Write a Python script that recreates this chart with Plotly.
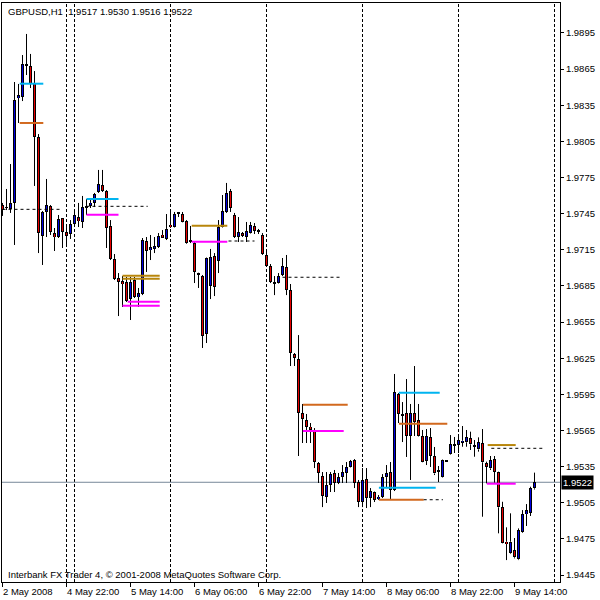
import plotly.graph_objects as go

# ---------------- data ----------------
opens = [1.97522,1.97505,1.97489,1.97539,1.98410,1.98419,1.98684,1.98676,1.98535,1.98086,
         1.97265,1.97464,1.97514,1.97289,1.97256,1.97414,1.97298,1.97281,1.97364,1.97422,
         1.97381,1.97505,1.97514,1.97539,1.97630,1.97688,1.97638,1.97348,1.97074,1.96916,
         1.96891,1.96883,1.96741,1.96899,1.96758,1.96783,1.97223,1.97148,1.97157,1.97173,
         1.97273,1.97240,1.97356,1.97339,1.97456,1.97447,1.97389,1.97223,1.97206,1.96949,
         1.96932,1.96451,1.96849,1.97098,1.97057,1.97339,1.97464,1.97638,1.97439,1.97256,
         1.97289,1.97256,1.97289,1.97348,1.97302,1.97273,1.97107,1.97015,1.96874,1.96874,
         1.96941,1.97007,1.96816,1.96285,1.96243,1.95795,1.95737,1.95679,1.95654,1.95380,
         1.95272,1.95098,1.95197,1.95297,1.95214,1.95263,1.95297,1.95347,1.95405,1.95222,
         1.95056,1.95247,1.95089,1.95139,1.95081,1.95098,1.95263,1.95305,1.95156,1.95953,
         1.95778,1.95795,1.95604,1.95795,1.95737,1.95604,1.95396,1.95596,1.95438,1.95313,
         1.95263,1.95398,1.95455,1.95529,1.95529,1.95548,1.95552,1.95585,1.95523,1.95493,
         1.95543,1.95377,1.95336,1.95411,1.95302,1.95012,1.94726,1.94630,1.94657,1.94580,
         1.94809,1.94956,1.94967,1.95170]
highs = [1.97539,1.97655,1.97862,1.98543,1.98527,1.98767,1.98942,1.98776,1.98634,1.98111,
         1.97472,1.97738,1.97522,1.97331,1.97439,1.97414,1.97339,1.97397,1.97472,1.97539,
         1.97597,1.97572,1.97580,1.97622,1.97813,1.97813,1.97646,1.97397,1.97115,1.96957,
         1.96932,1.96924,1.96924,1.96924,1.96833,1.97248,1.97256,1.97273,1.97256,1.97289,
         1.97314,1.97447,1.97464,1.97464,1.97464,1.97464,1.97397,1.97348,1.97215,1.96960,
         1.96941,1.97086,1.97157,1.97123,1.97397,1.97605,1.97705,1.97655,1.97456,1.97422,
         1.97298,1.97381,1.97381,1.97372,1.97323,1.97289,1.97132,1.97032,1.96932,1.96957,
         1.97082,1.97107,1.96866,1.96293,1.96442,1.95870,1.95787,1.95712,1.95670,1.95388,
         1.95305,1.95305,1.95305,1.95322,1.95297,1.95363,1.95388,1.95405,1.95413,1.95239,
         1.95338,1.95338,1.95172,1.95143,1.95114,1.95288,1.95363,1.95388,1.96119,1.95961,
         1.95886,1.96077,1.95870,1.96185,1.95870,1.95654,1.95662,1.95670,1.95513,1.95355,
         1.95413,1.95400,1.95612,1.95596,1.95612,1.95687,1.95654,1.95640,1.95571,1.95593,
         1.95662,1.95391,1.95438,1.95438,1.95308,1.95058,1.94846,1.94962,1.94757,1.94837,
         1.94989,1.95039,1.95183,1.95300]
lows = [1.97431,1.97480,1.97456,1.97190,1.98203,1.98385,1.98601,1.98493,1.97680,1.97123,
        1.97024,1.97256,1.97273,1.97140,1.97248,1.97165,1.97190,1.97240,1.97339,1.97339,
        1.97331,1.97439,1.97497,1.97505,1.97622,1.97630,1.97165,1.97065,1.96899,1.96600,
        1.96675,1.96717,1.96567,1.96750,1.96675,1.96774,1.96966,1.97065,1.97123,1.97165,
        1.97248,1.97231,1.97331,1.97335,1.97422,1.97378,1.97200,1.97206,1.96874,1.96833,
        1.96335,1.96376,1.96741,1.96766,1.96957,1.97335,1.97456,1.97464,1.97248,1.97215,
        1.97256,1.97215,1.97285,1.97281,1.97281,1.97107,1.97007,1.96874,1.96774,1.96870,
        1.96932,1.96774,1.96185,1.96185,1.95438,1.95546,1.95546,1.95546,1.95338,1.95214,
        1.95014,1.95048,1.95139,1.95139,1.95205,1.95214,1.95214,1.95343,1.95172,1.95014,
        1.95014,1.95006,1.95014,1.95056,1.95073,1.95089,1.95180,1.95081,1.95147,1.95712,
        1.95554,1.95430,1.95239,1.95604,1.95600,1.95386,1.95363,1.95347,1.95280,1.95222,
        1.95259,1.95394,1.95450,1.95463,1.95463,1.95515,1.95515,1.95488,1.95432,1.95474,
        1.94934,1.95211,1.95322,1.95216,1.94796,1.94713,1.94574,1.94624,1.94588,1.94574,
        1.94801,1.94857,1.94940,1.95160]
closes = [1.97480,1.97497,1.97539,1.98394,1.98435,1.98693,1.98680,1.98527,1.98086,1.97289,
          1.97464,1.97522,1.97298,1.97256,1.97406,1.97298,1.97265,1.97364,1.97439,1.97389,
          1.97505,1.97509,1.97539,1.97613,1.97696,1.97638,1.97331,1.97074,1.96908,1.96883,
          1.96866,1.96725,1.96883,1.96758,1.96791,1.97231,1.97140,1.97173,1.97181,1.97265,
          1.97248,1.97323,1.97339,1.97447,1.97453,1.97381,1.97206,1.97219,1.96966,1.96946,
          1.96434,1.97082,1.97090,1.96841,1.97339,1.97472,1.97622,1.97497,1.97256,1.97298,
          1.97265,1.97306,1.97356,1.97306,1.97298,1.97115,1.97015,1.96883,1.96872,1.96932,
          1.97015,1.96816,1.96293,1.96252,1.95795,1.95745,1.95679,1.95654,1.95388,1.95297,
          1.95106,1.95197,1.95288,1.95214,1.95263,1.95305,1.95347,1.95396,1.95214,1.95056,
          1.95239,1.95089,1.95147,1.95073,1.95098,1.95263,1.95297,1.95156,1.95966,1.95787,
          1.95776,1.95604,1.95795,1.95720,1.95604,1.95388,1.95604,1.95438,1.95293,1.95311,
          1.95409,1.95396,1.95537,1.95527,1.95567,1.95565,1.95593,1.95535,1.95521,1.95552,
          1.95386,1.95349,1.95405,1.95308,1.95012,1.94718,1.94707,1.94726,1.94597,1.94823,
          1.94954,1.94989,1.95170,1.95220]

x_tick_bars = [0, 16, 32, 48, 64, 80, 96, 112, 128]
x_tick_labels = ["2 May 2008", "4 May 22:00", "5 May 14:00", "6 May 06:00", "6 May 22:00",
                 "7 May 14:00", "8 May 06:00", "8 May 22:00", "9 May 14:00"]
y_tick_values = [1.9445, 1.9475, 1.9505, 1.9535, 1.9565, 1.9595, 1.9625, 1.9655,
                 1.9685, 1.9715, 1.9745, 1.9775, 1.9805, 1.9835, 1.9865, 1.9895]
separator_bars = [16, 18, 42, 66, 90, 114, 138]

# level segments: price, start bar, end bar, kind
seg_price = [1.98529, 1.98203, 1.97486, 1.97572, 1.97441, 1.97511, 1.96935, 1.96910,
             1.96719, 1.96686, 1.97350, 1.97217, 1.97223, 1.96922, 1.95864, 1.95646,
             1.95963, 1.95706, 1.95175, 1.95075, 1.95075, 1.95529, 1.95502, 1.95208]
seg_start = [4.3, 4.3, 0.0, 21.0, 21.0, 21.0, 30.0, 30.0, 31.3, 30.0, 47.3, 47.3, 56.5, 70.0,
             75.1, 75.1, 99.1, 99.1, 94.1, 94.1, 105.3, 121.3, 122.2, 121.1]
seg_end = [10.2, 10.2, 14.3, 29.0, 29.0, 36.3, 39.3, 39.3, 39.3, 39.3, 56.2, 56.2, 63.0, 84.3,
           86.3, 85.3, 109.3, 111.2, 108.3, 105.3, 110.1, 128.3, 135.3, 128.3]
seg_kind = ["cyan", "orange", "dash", "cyan", "magenta", "dash", "gold", "gold",
            "magenta", "magenta", "gold", "magenta", "dash", "dash", "orange", "magenta",
            "cyan", "orange", "cyan", "orange", "dash", "gold", "dash", "magenta"]

symbol = "GBPUSD,H1"
last_price = 1.9522
footer = "Interbank FX Trader 4, © 2001-2008 MetaQuotes Software Corp."

# ---------------- styles ----------------
FONT = "Liberation Sans"
FS = 9.5
BULL = "#0000E0"
BEAR = "#E80000"
kind_style = {
    "cyan": dict(color="#00B4F0", width=2, dash="solid"),
    "orange": dict(color="#D2691E", width=2, dash="solid"),
    "magenta": dict(color="#FF00FF", width=2, dash="solid"),
    "gold": dict(color="#B8860B", width=2, dash="solid"),
    "dash": dict(color="#000000", width=1, dash="3px,3px"),
}
Y_RANGE = [1.94392, 1.99199]
PLOT_H_PX = 579
px_price = (Y_RANGE[1] - Y_RANGE[0]) / PLOT_H_PX  # price per screen pixel

n = len(opens)
idx = list(range(n))

fig = go.Figure()

# body outlines (black) then coloured interior (bars sit below scatter lines)
base = [min(o, c) for o, c in zip(opens, closes)]
top = [max(o, c) for o, c in zip(opens, closes)]
height = [max(t - b, px_price) for t, b in zip(top, base)]
fig.add_trace(go.Bar(x=idx, y=height, base=base, width=0.75,
                     marker=dict(color="black", line=dict(width=0)), showlegend=False))
ix, ib, ih, ic = [], [], [], []
for i in idx:
    h_in = top[i] - base[i] - 2 * px_price
    if h_in > 0:
        ix.append(i)
        ib.append(base[i] + px_price)
        ih.append(h_in)
        ic.append(BULL if closes[i] >= opens[i] else BEAR)
fig.add_trace(go.Bar(x=ix, y=ih, base=ib, width=0.25,
                     marker=dict(color=ic, line=dict(width=0)), showlegend=False))

# wicks: above and below the body only
wx, wy = [], []
for i in idx:
    wx += [i, i, None, i, i, None]
    wy += [highs[i], top[i], None, base[i], lows[i], None]
fig.add_trace(go.Scatter(x=wx, y=wy, mode="lines", line=dict(color="black", width=1),
                         hoverinfo="skip", showlegend=False))

shapes = []
for p, a, b, k in zip(seg_price, seg_start, seg_end, seg_kind):
    st = kind_style[k]
    shapes.append(dict(type="line", xref="x", yref="y", x0=a, x1=b, y0=p, y1=p,
                       line=dict(color=st["color"], width=st["width"], dash=st["dash"]),
                       layer="above"))
for s in separator_bars:
    shapes.append(dict(type="line", xref="x", yref="paper", x0=s, x1=s, y0=0, y1=1,
                       line=dict(color="black", width=1, dash="3px,2px"), layer="below"))
shapes.append(dict(type="line", xref="paper", yref="y", x0=0, x1=1, y0=last_price, y1=last_price,
                   line=dict(color="#778899", width=1), layer="below"))

annotations = []
annotations.append(dict(xref="paper", yref="paper", x=0.007, y=1, xanchor="left", yanchor="top",
                        yshift=-1, showarrow=False,
                        text=f"{symbol}  {opens[-1]:.4f} {highs[-1]:.4f} {lows[-1]:.4f} {closes[-1]:.4f}",
                        font=dict(family=FONT, size=FS, color="black")))
annotations.append(dict(xref="paper", yref="paper", x=0.007, y=0, xanchor="left", yanchor="bottom",
                        yshift=0, showarrow=False, text=footer,
                        font=dict(family=FONT, size=FS, color="black")))
for b, t in zip(x_tick_bars, x_tick_labels):
    annotations.append(dict(xref="x", yref="paper", x=b, y=0, xanchor="left", yanchor="top",
                            xshift=-2, yshift=-2, showarrow=False, text=t,
                            font=dict(family=FONT, size=FS, color="black")))
annotations.append(dict(xref="paper", yref="y", x=1, y=last_price, xanchor="left", yanchor="middle",
                        xshift=1, showarrow=False, text=f"{last_price:.4f}", bgcolor="black",
                        borderpad=1, font=dict(family=FONT, size=FS, color="white")))

fig.update_layout(
    width=600, height=600,
    margin=dict(l=2, r=40, t=3, b=18, pad=0),
    paper_bgcolor="white", plot_bgcolor="white",
    barmode="overlay", bargap=0,
    showlegend=False,
    shapes=shapes, annotations=annotations,
    xaxis=dict(range=[-0.125, 139.375], showgrid=False, zeroline=False,
               tickvals=x_tick_bars, ticktext=[""] * len(x_tick_bars), ticks="outside",
               ticklen=4, tickcolor="black", showline=True, linecolor="black", linewidth=1,
               mirror=True, fixedrange=True),
    yaxis=dict(range=Y_RANGE, side="right", showgrid=False, zeroline=False,
               tickvals=y_tick_values, ticktext=[f"{v:.4f}" for v in y_tick_values],
               ticks="outside", ticklen=3, tickcolor="black",
               tickfont=dict(family=FONT, size=FS, color="black"),
               showline=True, linecolor="black", linewidth=1, mirror=True, fixedrange=True),
)

fig.write_html("out.html", config={"displayModeBar": False},
               post_script="document.body.style.margin='0px';document.body.style.overflow='hidden';")
